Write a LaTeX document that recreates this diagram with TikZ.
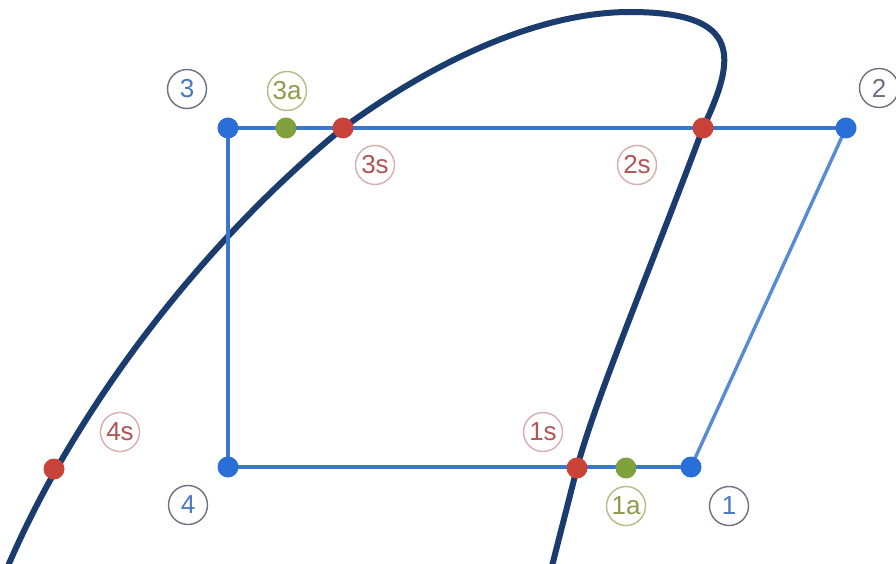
\documentclass[tikz,border=0pt]{standalone}
\usepackage{fontspec}
\setmainfont{Liberation Sans}
\definecolor{cycleblue}{HTML}{3A76CC}
\definecolor{dotblue}{HTML}{2A6FD8}
\definecolor{dotred}{HTML}{C9433A}
\definecolor{dotgreen}{HTML}{7FA23E}
\definecolor{dome}{HTML}{1A3C6E}
\definecolor{lblblue}{HTML}{4A78C0}
\definecolor{lblred}{HTML}{B05555}
\definecolor{lblgreen}{HTML}{8C9C4C}
\definecolor{ringgray}{HTML}{6A7280}
\definecolor{ringred}{HTML}{D8AEAE}
\definecolor{ringgreen}{HTML}{B4BC84}
\tikzset{
  pt/.style={circle,inner sep=0pt,minimum size=21pt},
  bluept/.style={pt,fill=dotblue},
  redpt/.style={pt,fill=dotred},
  greenpt/.style={pt,fill=dotgreen},
  lbl/.style={circle,draw,line width=1.4pt,inner sep=0pt,minimum size=39pt,font=\fontsize{26}{26}\selectfont},
  lblb/.style={lbl,draw=ringgray,text=lblblue},
  lblr/.style={lbl,draw=ringred,text=lblred},
  lblg/.style={lbl,draw=ringgreen,text=lblgreen},
  cyc/.style={cycleblue,line width=4pt},
}
\begin{document}
\begin{tikzpicture}[x=1pt,y=-1pt]
\useasboundingbox (0,0) rectangle (896,564);
\fill[white] (0,0) rectangle (896,564);
% saturation dome
\draw[dome,line width=6pt]
  (8,566) .. controls (75,410) and (200,245) .. (343,128)
  .. controls (450,50) and (550,12) .. (630,12)
  .. controls (745,12) and (735,60) .. (703,128)
  .. controls (650,270) and (595,400) .. (577,468)
  -- (552,566);
% points
\coordinate (p3) at (228,128);
\coordinate (p2) at (846,128);
\coordinate (p4) at (228,467);
\coordinate (p1) at (691,467);
% cycle lines
\draw[cyc] (p3) -- (p2);
\draw[cyc] (p3) -- (p4) -- (p1);
\draw[cyc,line width=3.4pt,color=cycleblue!85!white] (p1) -- (p2);
% dots
\node[bluept] (n3) at (p3) {};
\node[bluept] (n2) at (p2) {};
\node[bluept] (n4) at (p4) {};
\node[bluept] (n1) at (p1) {};
\node[greenpt] (n3a) at (286,128) {};
\node[redpt] (n3s) at (343,128) {};
\node[redpt] (n2s) at (703,128) {};
\node[redpt] (n1s) at (577,468) {};
\node[greenpt] (n1a) at (626,468) {};
\node[redpt] (n4s) at (54,469) {};
% labels
\node[lblb] (l3) at (187,89) {3};
\node[lblg] (l3a) at (287,91) {3a};
\node[lblr] (l3s) at (375,165) {3s};
\node[lblr] (l2s) at (637,165) {2s};
\node[lblb,text=ringgray] (l2) at (879,88) {2};
\node[lblr] (l4s) at (120,432) {4s};
\node[lblb] (l4) at (188,505) {4};
\node[lblr] (l1s) at (543,432) {1s};
\node[lblg] (l1a) at (626,506) {1a};
\node[lblb] (l1) at (729,506) {1};
\end{tikzpicture}
\end{document}
